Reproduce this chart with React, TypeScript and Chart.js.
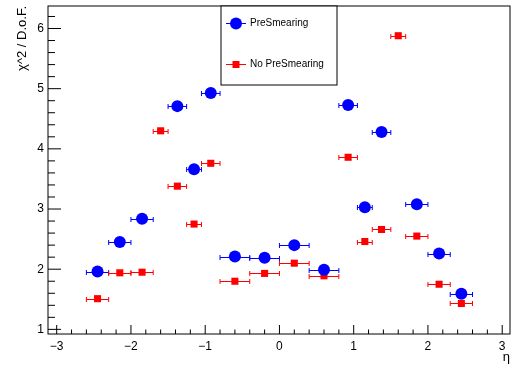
import React, { useEffect, useRef } from 'react';
import { Chart, registerables } from 'chart.js';

Chart.register(...registerables);

// ---- data ----
const preEta = [-2.45, -2.15, -1.85, -1.375, -1.15, -0.925, -0.6, -0.2, 0.2, 0.6, 0.925, 1.15, 1.375, 1.85, 2.15, 2.45];
const preHalfWidth = [0.15, 0.15, 0.15, 0.125, 0.1, 0.125, 0.2, 0.2, 0.2, 0.2, 0.125, 0.1, 0.125, 0.15, 0.15, 0.15];
const preChi2 = [1.96, 2.45, 2.84, 4.71, 3.66, 4.93, 2.21, 2.19, 2.40, 1.99, 4.73, 3.03, 4.28, 3.08, 2.26, 1.59];

const noPreEta = [-2.45, -2.15, -1.85, -1.6, -1.375, -1.15, -0.925, -0.6, -0.2, 0.2, 0.6, 0.925, 1.15, 1.375, 1.6, 1.85, 2.15, 2.45];
const noPreHalfWidth = [0.15, 0.15, 0.15, 0.1, 0.125, 0.1, 0.125, 0.2, 0.2, 0.2, 0.2, 0.125, 0.1, 0.125, 0.1, 0.15, 0.15, 0.15];
const noPreChi2 = [1.51, 1.94, 1.95, 4.30, 3.38, 2.75, 3.76, 1.80, 1.93, 2.10, 1.89, 3.86, 2.46, 2.66, 5.88, 2.55, 1.75, 1.43];

const seriesLabels = ['PreSmearing', 'No PreSmearing'];
const xTickValues = [-3, -2, -1, 0, 1, 2, 3];
const yTickValues = [1, 2, 3, 4, 5, 6];
const xTitle = 'η';
const yTitle = 'χ^2 / D.o.F.';

const X_MIN = -3.117;
const X_MAX = 3.105;
const Y_MIN = 0.923;
const Y_MAX = 6.374;

const FONT = '"Liberation Sans", Arial, Helvetica, sans-serif';

function minorValues(min: number, max: number, per: number) {
  const out: number[] = [];
  for (let i = Math.ceil(min * per); i <= Math.floor(max * per); i++) {
    if (i % per !== 0) out.push(i / per);
  }
  return out;
}

const rootStyle = {
  id: 'rootStyle',
  beforeDatasetsDraw(chart: any) {
    const ctx = chart.ctx;
    const xs = chart.scales.x;
    const ys = chart.scales.y;
    chart.data.datasets.forEach((ds: any) => {
      ctx.save();
      ctx.strokeStyle = ds.borderColor;
      ctx.lineWidth = 1;
      ds.data.forEach((p: any) => {
        const y = Math.round(ys.getPixelForValue(p.y)) + 0.5;
        const x1 = xs.getPixelForValue(p.x - p.xerr);
        const x2 = xs.getPixelForValue(p.x + p.xerr);
        ctx.beginPath();
        ctx.moveTo(x1, y);
        ctx.lineTo(x2, y);
        ctx.moveTo(x1, y - 2.5);
        ctx.lineTo(x1, y + 2.5);
        ctx.moveTo(x2, y - 2.5);
        ctx.lineTo(x2, y + 2.5);
        ctx.stroke();
      });
      ctx.restore();
    });
  },
  afterDraw(chart: any) {
    const ctx = chart.ctx;
    const xs = chart.scales.x;
    const ys = chart.scales.y;
    const { left, right, top, bottom } = chart.chartArea;
    ctx.save();
    ctx.strokeStyle = '#000';
    ctx.lineWidth = 1;
    // frame
    ctx.strokeRect(left, top, right - left, bottom - top);
    // y ticks
    ctx.beginPath();
    yTickValues.forEach((v) => {
      const y = ys.getPixelForValue(v);
      ctx.moveTo(left, y);
      ctx.lineTo(left + 13, y);
    });
    minorValues(Y_MIN, Y_MAX, 5).forEach((v) => {
      const y = ys.getPixelForValue(v);
      ctx.moveTo(left, y);
      ctx.lineTo(left + 7, y);
    });
    // x ticks
    xTickValues.forEach((v) => {
      const x = xs.getPixelForValue(v);
      ctx.moveTo(x, bottom);
      ctx.lineTo(x, bottom - 9);
    });
    minorValues(X_MIN, X_MAX, 5).forEach((v) => {
      const x = xs.getPixelForValue(v);
      ctx.moveTo(x, bottom);
      ctx.lineTo(x, bottom - 4.5);
    });
    ctx.stroke();

    // axis titles
    ctx.fillStyle = '#000';
    ctx.font = `13px ${FONT}`;
    ctx.textAlign = 'right';
    ctx.textBaseline = 'alphabetic';
    ctx.fillText(xTitle, right, 361);
    ctx.save();
    ctx.translate(26, top);
    ctx.rotate(-Math.PI / 2);
    ctx.textAlign = 'right';
    ctx.fillText(yTitle, 0, 0);
    ctx.restore();

    // legend
    const lx1 = 221, lx2 = 337, ly1 = top, ly2 = 85;
    ctx.fillStyle = '#fff';
    ctx.fillRect(lx1, ly1, lx2 - lx1, ly2 - ly1);
    ctx.strokeStyle = '#000';
    ctx.strokeRect(lx1, ly1, lx2 - lx1, ly2 - ly1);
    const rows = [23.5, 64.5];
    chart.data.datasets.forEach((ds: any, i: number) => {
      const y = rows[i];
      ctx.strokeStyle = ds.borderColor;
      ctx.beginPath();
      ctx.moveTo(226, y);
      ctx.lineTo(246, y);
      ctx.stroke();
      ctx.fillStyle = ds.backgroundColor;
      if (ds.pointStyle === 'circle') {
        ctx.beginPath();
        ctx.arc(236, y, 6, 0, Math.PI * 2);
        ctx.fill();
      } else {
        ctx.fillRect(236 - 3.5, y - 3.5, 7, 7);
      }
      ctx.fillStyle = '#000';
      ctx.font = `10px ${FONT}`;
      ctx.textAlign = 'left';
      ctx.textBaseline = 'middle';
      ctx.fillText(ds.label, 250, y);
    });
    ctx.restore();
  },
};

export default function App() {
  const ref = useRef<HTMLCanvasElement | null>(null);
  useEffect(() => {
    if (!ref.current) return;
    const minus = (v: number) => (v < 0 ? '\u2212' + Math.abs(v) : String(v));
    const chart = new Chart(ref.current, {
      type: 'scatter',
      data: {
        datasets: [
          {
            label: seriesLabels[0],
            data: preEta.map((x, i) => ({ x, y: preChi2[i], xerr: preHalfWidth[i] })),
            pointStyle: 'circle',
            radius: 6,
            borderWidth: 0,
            backgroundColor: '#0000ff',
            borderColor: '#0000ff',
          },
          {
            label: seriesLabels[1],
            data: noPreEta.map((x, i) => ({ x, y: noPreChi2[i], xerr: noPreHalfWidth[i] })),
            pointStyle: 'rect',
            radius: 5,
            borderWidth: 0,
            backgroundColor: '#ff0000',
            borderColor: '#ff0000',
          },
        ] as any,
      },
      options: {
        animation: false,
        responsive: false,
        devicePixelRatio: 1,
        layout: { padding: { top: 3, right: 6, left: 0, bottom: 0 } },
        plugins: { legend: { display: false }, tooltip: { enabled: false } },
        scales: {
          x: {
            type: 'linear',
            min: X_MIN,
            max: X_MAX,
            afterBuildTicks: (s: any) => {
              s.ticks = xTickValues.map((v) => ({ value: v }));
            },
            afterFit: (s: any) => {
              s.height = 35;
              s.paddingLeft = 0;
              s.paddingRight = 0;
            },
            grid: { display: false, drawTicks: false },
            border: { display: false },
            ticks: {
              padding: 5,
              color: '#000',
              font: { family: FONT, size: 12 },
              maxRotation: 0,
              callback: (v: any) => minus(Number(v)),
            },
          },
          y: {
            type: 'linear',
            min: Y_MIN,
            max: Y_MAX,
            afterBuildTicks: (s: any) => {
              s.ticks = yTickValues.map((v) => ({ value: v }));
            },
            afterFit: (s: any) => {
              s.width = 48;
              s.paddingTop = 0;
              s.paddingBottom = 0;
            },
            grid: { display: false, drawTicks: false },
            border: { display: false },
            ticks: {
              padding: 4,
              color: '#000',
              font: { family: FONT, size: 12 },
              callback: (v: any) => minus(Number(v)),
            },
          },
        },
      },
      plugins: [rootStyle],
    });
    return () => chart.destroy();
  }, []);
  return (
    <div style={{ position: 'absolute', left: 0, top: 0, width: 516, height: 369, background: '#fff' }}>
      <canvas ref={ref} width={516} height={369} style={{ display: 'block' }} />
    </div>
  );
}
